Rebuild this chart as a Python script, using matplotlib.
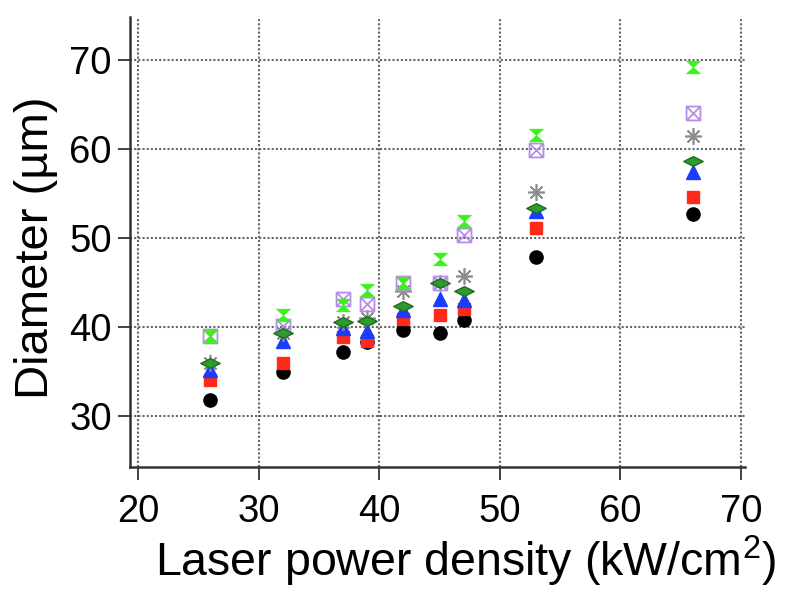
import matplotlib
matplotlib.use("Agg")
import matplotlib.pyplot as plt
from matplotlib.path import Path

plt.rcParams['font.family'] = ['Liberation Sans', 'DejaVu Sans']
plt.rcParams['mathtext.fontset'] = 'custom'
plt.rcParams['mathtext.rm'] = 'Liberation Sans'
plt.rcParams['mathtext.default'] = 'regular'

power_density = [26, 32, 37, 39, 42, 45, 47, 53, 66]

d_circle   = [31.8, 35.0, 37.2, 38.3, 39.7, 39.3, 40.8, 47.9, 52.7]
d_square   = [34.0, 36.0, 38.9, 38.4, 40.9, 41.3, 42.0, 51.1, 54.6]
d_triangle = [35.2, 38.4, 39.9, 39.5, 41.9, 43.2, 43.0, 53.0, 57.4]
d_asterisk = [35.9, 39.3, 40.6, 41.0, 44.0, 45.0, 45.7, 55.2, 61.5]
d_boxcross = [39.0, 40.1, 43.1, 42.6, 45.0, 45.0, 50.3, 59.9, 64.0]
d_diamond  = [35.9, 39.3, 40.6, 40.7, 42.4, 45.0, 44.1, 53.4, 58.6]
d_hourglass = [39.0, 41.4, 42.5, 44.2, 45.0, 47.6, 51.9, 61.6, 69.2]

xticks = [20, 30, 40, 50, 60, 70]
yticks = [30, 40, 50, 60, 70]

# custom marker shapes
wide_diamond = Path([(-1, 0), (0, 0.5), (1, 0), (0, -0.5), (-1, 0)],
                    [Path.MOVETO, Path.LINETO, Path.LINETO, Path.LINETO, Path.CLOSEPOLY])
hourglass = Path([(-1.1, 1), (1.1, 1), (0, 0), (1.1, -1), (-1.1, -1), (0, 0), (-1.1, 1)],
                 [Path.MOVETO, Path.LINETO, Path.LINETO, Path.LINETO, Path.LINETO,
                  Path.LINETO, Path.CLOSEPOLY])
box_cross = Path([(-1, -1), (1, -1), (1, 1), (-1, 1), (-1, -1),
                  (-1, -1), (1, 1), (-1, 1), (1, -1)],
                 [Path.MOVETO, Path.LINETO, Path.LINETO, Path.LINETO, Path.CLOSEPOLY,
                  Path.MOVETO, Path.LINETO, Path.MOVETO, Path.LINETO])

fig = plt.figure(figsize=(7.89, 5.90), dpi=100)
ax = fig.add_axes([130 / 789, 123 / 590, 615 / 789, 450 / 590])

ax.plot(power_density, d_circle, ls='none', marker='o', ms=9.5,
        mfc='black', mec='black', zorder=3)
ax.plot(power_density, d_square, ls='none', marker='s', ms=8.5,
        mfc='#ff2a1a', mec='#ff2a1a', zorder=4)
ax.plot(power_density, d_triangle, ls='none', marker='^', ms=10,
        mfc='#1a3cff', mec='#1a3cff', zorder=5)
ax.plot(power_density, d_asterisk, ls='none', marker=(8, 2, 0), ms=12,
        mec='#8c8c8c', mew=1.2, zorder=6)
ax.plot(power_density, d_boxcross, ls='none', marker=box_cross, ms=10,
        mfc='none', mec='#b48ee8', mew=1.3, zorder=7)
ax.plot(power_density, d_diamond, ls='none', marker=wide_diamond, ms=14,
        mfc='#2f9a2f', mec='#1d6e1d', mew=1.0, zorder=8)
ax.plot(power_density, d_hourglass, ls='none', marker=hourglass, ms=10,
        mfc='#3cf01e', mec='#3cf01e', mew=0.5, zorder=9)

ax.set_xlim(20 - 8 / 12.04, 70 + 4 / 12.04)
ax.set_ylim(30 - 51 / 8.9, 70 + 43 / 8.9)
ax.set_xticks(xticks)
ax.set_yticks(yticks)

ax.grid(True, color='#666666', linestyle=(0, (1, 1)), linewidth=1.5)
ax.set_axisbelow(True)

for side in ('top', 'right'):
    ax.spines[side].set_visible(False)
for side in ('left', 'bottom'):
    ax.spines[side].set_color('#333333')
    ax.spines[side].set_linewidth(1.8)

ax.tick_params(axis='x', direction='out', length=9.5, width=1.3, color='#333333',
               labelsize=27.5, pad=10)
ax.tick_params(axis='y', direction='out', length=9, width=1.3, color='#333333',
               labelsize=27.5, pad=4)

ax.set_xlabel('Laser power density (kW/cm$^{2}$)', fontsize=33.5)
ax.xaxis.set_label_coords((466 - 130) / 615, -(561 - 467) / 450)
ax.xaxis.label.set_va('center')
ax.set_ylabel('Diameter (µm)', fontsize=34)
ax.yaxis.set_label_coords(-(130 - 36) / 615, (467 - 248) / 450)
ax.yaxis.label.set_va('center')

fig.savefig('out.png', dpi=100)
